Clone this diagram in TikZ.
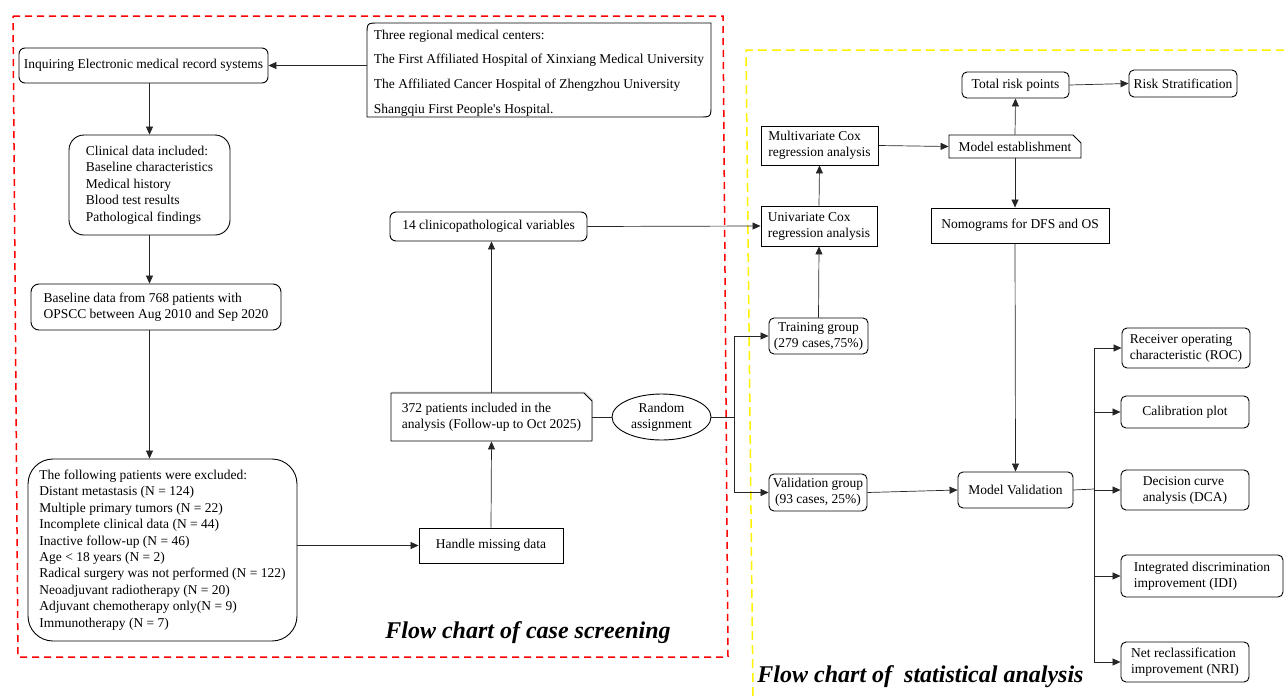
\documentclass[tikz,border=0pt]{standalone}
\usepackage{fontspec}
\setmainfont{Liberation Serif}
\usetikzlibrary{arrows.meta,shapes.geometric,shapes.misc,shadows}

\begin{document}
\begin{tikzpicture}[x=1pt,y=-1pt,
  >={Triangle[length=8pt,width=7pt]},
  every node/.style={font=\fontsize{13.5}{16}\selectfont},
  box/.style={draw,line width=0.9pt,inner sep=1pt,align=left},
  rbox/.style={box,rounded corners=5pt},
  cbox/.style={box,chamfered rectangle,chamfered rectangle corners=north east,chamfered rectangle xsep=4pt,chamfered rectangle ysep=4pt},
  line/.style={line width=0.7pt,black!85},
  title/.style={font=\fontsize{24}{28}\selectfont\bfseries\itshape}]
\useasboundingbox (0,0) rectangle (1284,696);

% frames
\draw[red,line width=1.5pt,dash pattern=on 7pt off 5pt] (13,16) -- (723,16) -- (728,657) -- (18,657) -- cycle;
\draw[yellow,line width=1.5pt,dash pattern=on 9pt off 5pt] (753,696) -- (746,50) -- (1284,50);

% case screening
\node (ctr) [minimum width=344pt,minimum height=94pt,inner sep=0pt,align=left,font=\fontsize{13.5}{24.7}\selectfont] at (539,73)
  {Three regional medical centers:\\The First Affiliated Hospital of Xinxiang Medical University\\The Affiliated Cancer Hospital of Zhengzhou University\\Shangqiu First People\textquotesingle s Hospital.};
\draw[line width=0.9pt] (711,23) -- (711,105) .. controls (711,117) .. (699,117) -- (367,117) -- (367,35) .. controls (367,23) .. (379,23) -- cycle;
\node (inq) [rbox,rounded corners=6pt,minimum width=249pt,minimum height=35pt] at (143.5,65.5) {Inquiring Electronic medical record systems};
\node (clin) [rbox,rounded corners=15pt,minimum width=161pt,minimum height=100pt,font=\fontsize{13.5}{16.5}\selectfont] at (149.5,185)
  {Clinical data included:\\Baseline characteristics\\Medical history\\Blood test results\\Pathological findings};
\node (base) [rbox,rounded corners=8pt,minimum width=250pt,minimum height=46pt] at (156,307)
  {Baseline data from 768 patients with\\OPSCC between Aug 2010 and Sep 2020};
\node (excl) [rbox,rounded corners=25pt,minimum width=269pt,minimum height=182pt,font=\fontsize{13.5}{16.4}\selectfont] at (162.5,550)
  {The following patients were excluded:\\Distant metastasis (N = 124)\\Multiple primary tumors (N = 22)\\Incomplete clinical data (N = 44)\\Inactive follow-up (N = 46)\\Age < 18 years (N = 2)\\Radical surgery was not performed (N = 122)\\Neoadjuvant radiotherapy (N = 20)\\Adjuvant chemotherapy only(N = 9)\\Immunotherapy (N = 7)};
\node (hand) [box,minimum width=144pt,minimum height=35pt] at (491,545.5) {Handle missing data};
\node (pat) [cbox,fill=white,minimum width=201pt,minimum height=48pt,drop shadow={opacity=0.25,shadow xshift=1pt,shadow yshift=1.5pt}] at (491.5,417)
  {372 patients included in the\\analysis (Follow-up to Oct 2025)};
\node (var) [rbox,rounded corners=6pt,minimum width=197pt,minimum height=29pt] at (488.5,226.5) {14 clinicopathological variables};
\node (rand) [draw,line width=0.9pt,ellipse,inner sep=0pt,minimum width=99pt,minimum height=46pt,align=center] at (661.5,417) {Random\\assignment};

% statistical analysis
\node (train) [rbox,align=center,minimum width=99pt,minimum height=36pt] at (818.5,336) {Training group\\(279 cases,75\%)};
\node (valid) [rbox,align=center,minimum width=98pt,minimum height=37pt] at (818,492.5) {Validation group\\(93 cases, 25\%)};
\node (uni) [box,minimum width=116pt,minimum height=40pt] at (819,226) {Univariate Cox\\regression analysis};
\node (multi) [box,minimum width=117pt,minimum height=39pt] at (819.5,145.5) {Multivariate Cox\\regression analysis};
\node (model) [cbox,minimum width=132pt,minimum height=23pt] at (1015,146.5) {Model establishment};
\node (total) [rbox,minimum width=107pt,minimum height=26pt] at (1015.5,85) {Total risk points};
\node (risk) [rbox,minimum width=108pt,minimum height=27pt] at (1183,83.5) {Risk Stratification};
\node (nomo) [box,minimum width=178pt,minimum height=35pt] at (1020,225.5) {Nomograms for DFS and OS};
\node (mval) [rbox,minimum width=115pt,minimum height=36pt] at (1015.5,490) {Model Validation};
\node (roc) [rbox,minimum width=128pt,minimum height=40pt] at (1186,348) {Receiver operating\\characteristic (ROC)};
\node (cal) [rbox,minimum width=128pt,minimum height=32pt] at (1185,412) {Calibration plot};
\node (dca) [rbox,minimum width=128pt,minimum height=40pt] at (1185,490) {Decision curve\\analysis (DCA)};
\node (idi) [rbox,minimum width=162pt,minimum height=42pt] at (1202,576) {Integrated discrimination\\improvement (IDI)};
\node (nri) [rbox,minimum width=128pt,minimum height=40pt] at (1185,662) {Net reclassification\\improvement (NRI)};

\node (t1) [title,anchor=base] at (528,638) {Flow chart of case screening};
\node (t2) [title,anchor=base] at (920.5,682) {Flow chart of\ \ statistical analysis};

\coordinate (split) at (734,417);
\coordinate (fork) at (1094,489);

% connectors
\draw[line,->] (ctr.west |- inq.east) -- (inq.east);
\draw[line,->] (inq.south -| clin) -- (clin.north);
\draw[line,->] (clin.south) -- (base.north -| clin);
\draw[line,->] (base.south -| clin) -- (excl.north -| clin);
\draw[line,->] (excl.east |- hand) -- (hand.west);
\draw[line,->] (hand.north) -- (pat.south);
\draw[line,->] (pat.north) -- (var.south -| pat);
\draw[line,->] (var.east) -- (uni.west);
\draw[line] (pat.east) -- (rand.west);
\draw[line] (rand.east) -- (split);
\draw[line,->] (split) |- (train.west);
\draw[line,->] (split) |- (valid.west);
\draw[line,->] (train.north) -- (uni.south);
\draw[line,->] (uni.north) -- (multi.south);
\draw[line,->] (multi.east) -- (model.west);
\draw[line,->] (model.north) -- (total.south);
\draw[line,->] (total.east) -- (risk.west);
\draw[line,->] (model.south) -- (nomo.north -| model);
\draw[line,->] (nomo.south -| model) -- (mval.north);
\draw[line,->] (valid.east) -- (mval.west);
\draw[line] (mval.east) -- (fork);
\foreach \n in {roc,cal,dca,idi,nri}
  \draw[line,->] (fork) |- (\n.west);

\end{tikzpicture}
\end{document}
